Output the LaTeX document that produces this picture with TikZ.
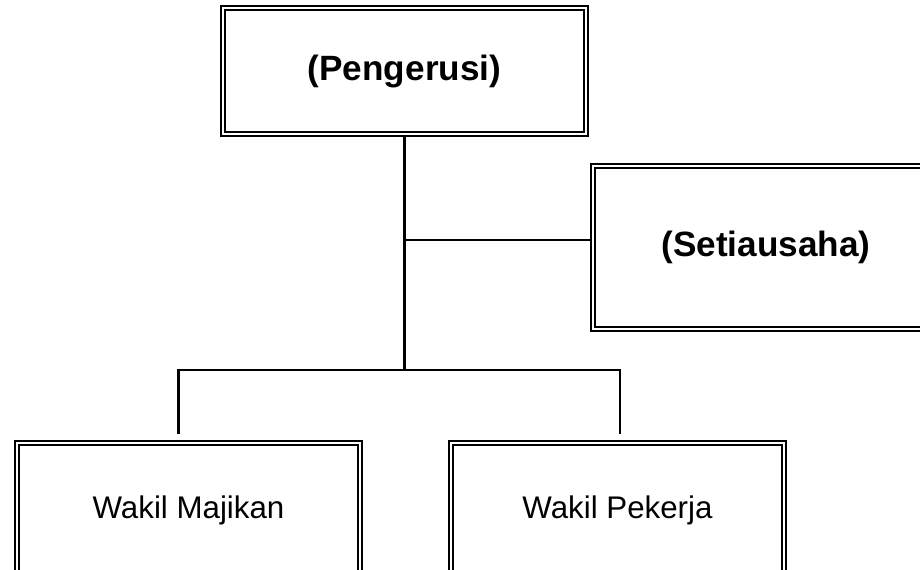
\documentclass[tikz,border=0pt]{standalone}
\usepackage{fontspec}
\setmainfont{Liberation Sans}
\usetikzlibrary{calc, positioning}

\begin{document}
\begin{tikzpicture}[
    x=0.2mm, y=-0.2mm,
        base/.style = {draw, double, line width=1pt, double distance=1.4pt,
                       inner sep=0pt, outer sep=1.7pt, align=center},
        head/.style = {base, font=\fontsize{20}{24}\selectfont\bfseries},
        member/.style = {base, font=\fontsize{17.8}{21}\selectfont},
        link/.style = {draw, line width=1.2pt}
        ]
    \useasboundingbox (0,0) rectangle (920,569);
    \clip (0,0) rectangle (920,569);

    % Top
    \node[head, minimum width=72.6mm, minimum height=25.2mm] (pengerusi) at (404.5,71) {(Pengerusi)};
    % Side
    \node[head, minimum width=69.2mm, minimum height=32.6mm] (setiausaha) at (766,247.5) {(Setiausaha)};
    % Bottom row
    \node[member, minimum width=68.6mm, minimum height=26.8mm] (majikan) at (188.5,510) {Wakil Majikan};
    \node[member, minimum width=66.6mm, minimum height=26.8mm] (pekerja) at (617.5,510) {Wakil Pekerja};

    \coordinate (tee)  at (pengerusi.south |- 0,240);
    \coordinate (fork) at (pengerusi.south |- 0,370);

    \draw[link] (pengerusi.south) -- (fork);
    \draw[link] (tee) -- (tee -| setiausaha.west);
    % gap of a few px above the lower boxes
    \draw[link, shorten <=1.2mm, shorten >=1.2mm]
        ([xshift=-2mm]majikan.north) |- (fork) -| ([xshift=0.5mm]pekerja.north);
\end{tikzpicture}
\end{document}
